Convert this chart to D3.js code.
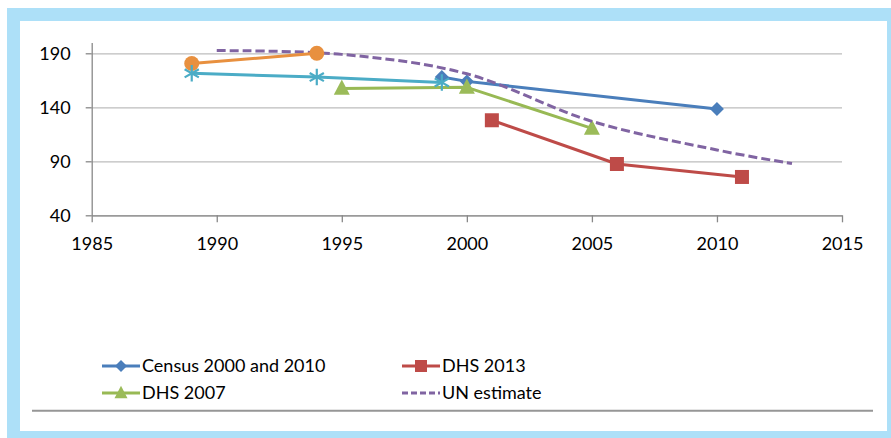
<!DOCTYPE html>
<html>
<head>
<meta charset="utf-8">
<script src="https://cdn.jsdelivr.net/npm/d3@7"></script>
<style>
  html, body { margin: 0; padding: 0; background: #fff; }
  svg { display: block; }
  text { font-family: Lato, "Open Sans", sans-serif; fill: #000; }
</style>
</head>
<body>
<svg id="chart" width="891" height="438"></svg>
<script>
// Under-five mortality estimates by source (deaths per 1,000 live births)
const xTicks = [1985, 1990, 1995, 2000, 2005, 2010, 2015];
const yTicks = [40, 90, 140, 190];

const censusYears = [1999, 2000, 2010];
const censusValues = [168, 164, 138.5];

const dhs2013Years = [2001, 2006, 2011];
const dhs2013Values = [128, 87.5, 75.5];

const dhs2007Years = [1995, 2000, 2005];
const dhs2007Values = [157.5, 158.5, 120.5];

const unYears = [1990, 1995, 2000, 2005, 2010, 2013];
const unValues = [192.5, 189, 171, 127, 100.5, 88];

const surveyAYears = [1989, 1994];
const surveyAValues = [180.5, 190];

const surveyBYears = [1989, 1994, 1999];
const surveyBValues = [171.5, 168, 163];

const legendNames = ["Census 2000 and 2010", "DHS 2013", "DHS 2007", "UN estimate"];

const zip = (xs, ys) => xs.map((x, i) => ({ x, y: ys[i] }));

const svg = d3.select("#chart");

// Frame
svg.append("rect").attr("x", 7).attr("y", 8).attr("width", 884).attr("height", 430).attr("fill", "#ade0f8");
svg.append("rect").attr("x", 20).attr("y", 21).attr("width", 867).attr("height", 410).attr("fill", "#ffffff");

const plotLeft = 91.7, plotRight = 842, plotTop = 42.5, plotBottom = 215.3;
const x = d3.scaleLinear().domain([1985, 2015]).range([plotLeft, plotRight]);
const y = d3.scaleLinear().domain([40, 200]).range([plotBottom, plotTop]);

// Horizontal gridlines
svg.append("g")
  .attr("transform", `translate(${plotLeft},0)`)
  .call(d3.axisLeft(y).tickValues(yTicks).tickSize(-(plotRight - plotLeft)).tickFormat(""))
  .call(g => g.select(".domain").remove())
  .call(g => g.selectAll("line").attr("stroke", "#bdbdbd").attr("stroke-width", 1.3));

// Y axis
svg.append("g")
  .attr("transform", `translate(${plotLeft},0)`)
  .call(d3.axisLeft(y).tickValues(yTicks).tickSize(6).tickPadding(15).tickSizeOuter(0))
  .call(g => g.select(".domain").attr("stroke", "#888").attr("stroke-width", 1.3))
  .call(g => g.selectAll("line").attr("stroke", "#888").attr("stroke-width", 1.3))
  .call(g => g.selectAll("text").attr("font-size", 18).attr("font-family", "Lato, sans-serif").attr("fill", "#000"));

// X axis
svg.append("g")
  .attr("transform", `translate(0,${plotBottom})`)
  .call(d3.axisBottom(x).tickValues(xTicks).tickFormat(d3.format("d")).tickSize(7).tickPadding(15).tickSizeOuter(0))
  .call(g => g.select(".domain").attr("stroke", "#888").attr("stroke-width", 1.3))
  .call(g => g.selectAll("line").attr("stroke", "#888").attr("stroke-width", 1.3))
  .call(g => g.selectAll("text").attr("font-size", 18).attr("font-family", "Lato, sans-serif").attr("fill", "#000"));

const line = d3.line().x(d => x(d.x)).y(d => y(d.y));
const smooth = d3.line().x(d => x(d.x)).y(d => y(d.y)).curve(d3.curveCatmullRom.alpha(0));

function drawSeries(data, color, markerFn) {
  const g = svg.append("g");
  g.append("path").datum(data).attr("d", line)
    .attr("fill", "none").attr("stroke", color).attr("stroke-width", 3).attr("stroke-linejoin", "round");
  g.selectAll(".m").data(data).join("g")
    .attr("transform", d => `translate(${x(d.x)},${y(d.y)})`)
    .each(function () { markerFn(d3.select(this)); });
}

const diamond = (sel, s = 14, c = "#4a7ebb") =>
  sel.append("rect").attr("x", -s / 2 / Math.SQRT2).attr("y", -s / 2 / Math.SQRT2)
    .attr("width", s / Math.SQRT2).attr("height", s / Math.SQRT2)
    .attr("transform", "rotate(45)").attr("fill", c);
const square = (sel, s = 14, c = "#be4b48") =>
  sel.append("rect").attr("x", -s / 2).attr("y", -s / 2).attr("width", s).attr("height", s).attr("fill", c);
const triangle = (sel, s = 16, c = "#9bbb59") =>
  sel.append("path").attr("d", `M0,${-s * 0.55}L${s / 2},${s * 0.4}L${-s / 2},${s * 0.4}Z`).attr("fill", c);
const circle = (sel, r = 7.5, c = "#e8903f") =>
  sel.append("circle").attr("r", r).attr("fill", c);
const asterisk = (sel, c = "#4bacc6") =>
  sel.append("path").attr("d", d3.symbol(d3.symbolAsterisk, 190)())
    .attr("fill", "none").attr("stroke", c).attr("stroke-width", 2.2);

drawSeries(zip(censusYears, censusValues), "#4a7ebb", s => diamond(s));
drawSeries(zip(dhs2013Years, dhs2013Values), "#be4b48", s => square(s));
drawSeries(zip(dhs2007Years, dhs2007Values), "#98b954", s => triangle(s));

svg.append("path").datum(zip(unYears, unValues)).attr("d", smooth)
  .attr("fill", "none").attr("stroke", "#8064a2").attr("stroke-width", 3)
  .attr("stroke-dasharray", "9,4");

drawSeries(zip(surveyAYears, surveyAValues), "#e8903f", s => circle(s));
drawSeries(zip(surveyBYears, surveyBValues), "#4bacc6", s => asterisk(s));

// Legend
const legendItems = [
  { name: legendNames[0], color: "#4a7ebb", lx: 102, ly: 366, marker: g => diamond(g, 12) },
  { name: legendNames[1], color: "#be4b48", lx: 402, ly: 366, marker: g => square(g, 12) },
  { name: legendNames[2], color: "#98b954", lx: 102, ly: 393, marker: g => triangle(g, 13) },
  { name: legendNames[3], color: "#8064a2", lx: 402, ly: 393, dashed: true }
];
legendItems.forEach(it => {
  const g = svg.append("g").attr("transform", `translate(${it.lx},${it.ly})`);
  g.append("line").attr("x1", 0).attr("x2", 38).attr("y1", 0).attr("y2", 0)
    .attr("stroke", it.color).attr("stroke-width", 3)
    .attr("stroke-dasharray", it.dashed ? "6,3" : null);
  if (it.marker) it.marker(g.append("g").attr("transform", "translate(19,0)"));
  g.append("text").attr("x", 40).attr("y", 0).attr("dy", "0.36em")
    .attr("font-size", 18).text(it.name);
});

// Separator under legend
svg.append("line").attr("x1", 32).attr("x2", 873).attr("y1", 410.7).attr("y2", 410.7)
  .attr("stroke", "#969696").attr("stroke-width", 2);
</script>
</body>
</html>
